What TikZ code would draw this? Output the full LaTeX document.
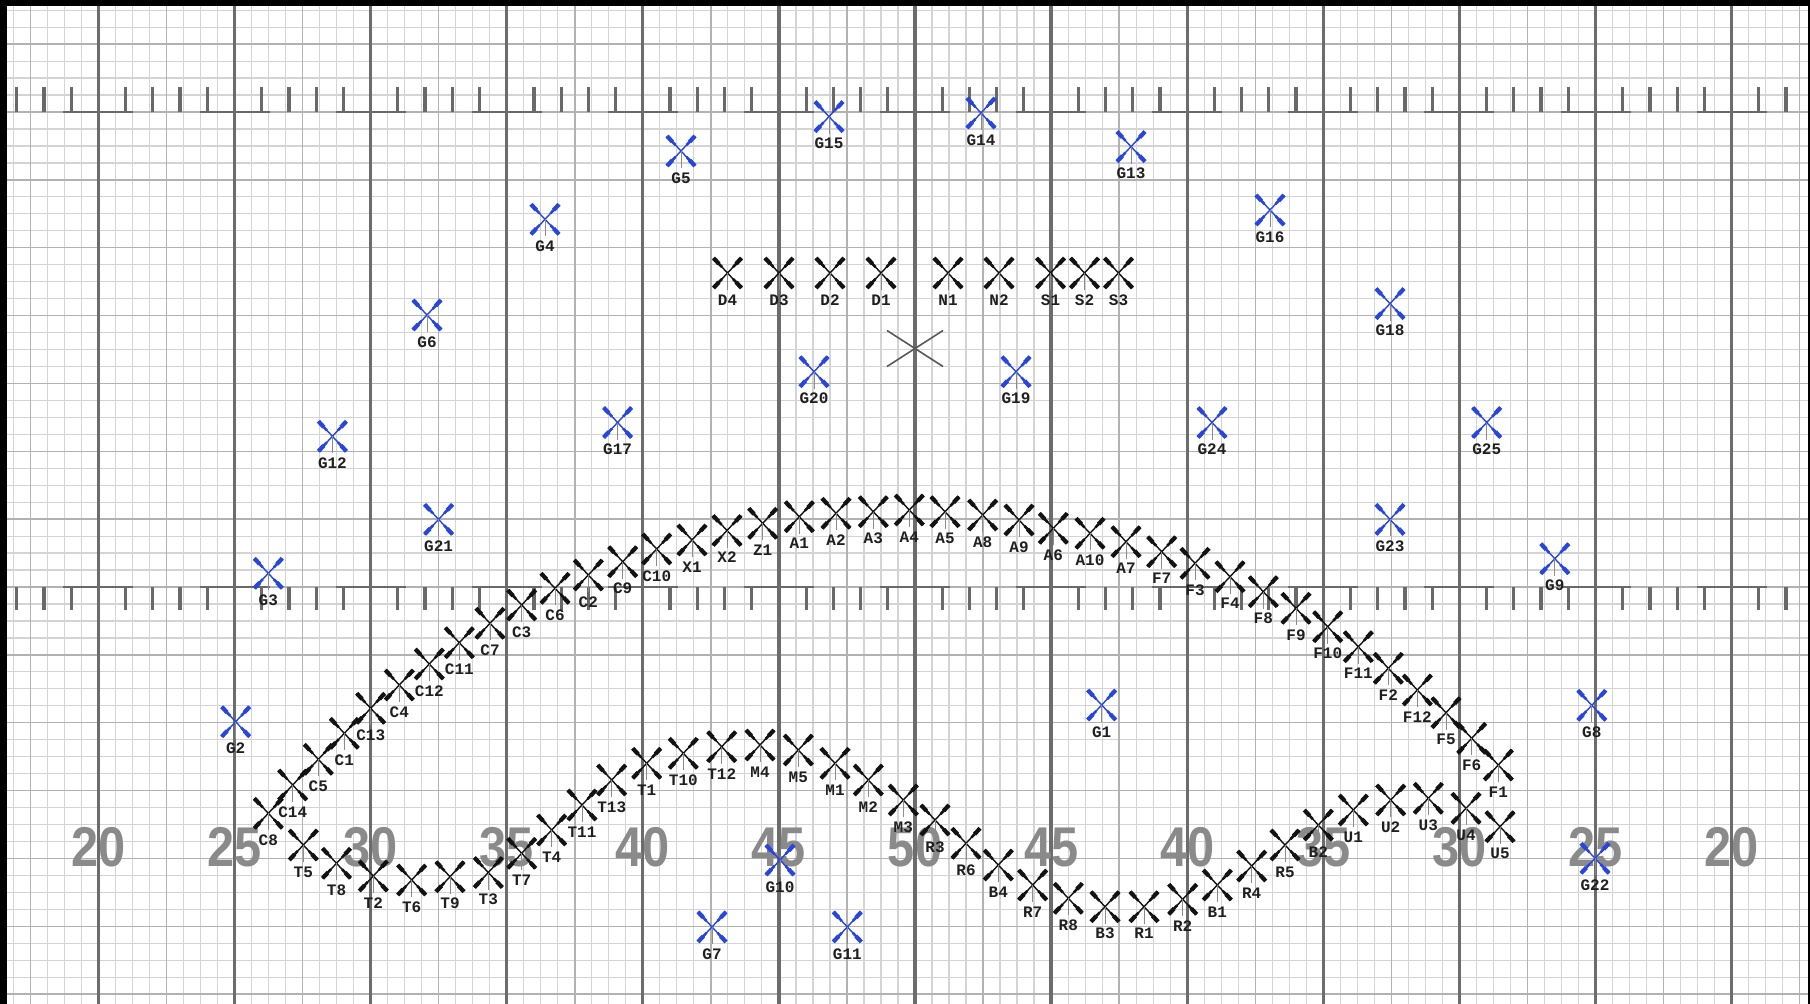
\documentclass[tikz,border=0pt]{standalone}
\usepackage{fontspec}
\newfontfamily\labfont{Liberation Mono}
\newfontfamily\numfont{Liberation Sans}[FakeStretch=0.87]
\definecolor{minorc}{RGB}{212,212,212}
\definecolor{medc}{RGB}{178,178,178}
\definecolor{majc}{RGB}{108,108,108}
\definecolor{hashc}{RGB}{105,105,105}
\definecolor{numc}{RGB}{138,138,138}
\definecolor{gblue}{RGB}{40,70,220}
\definecolor{mkc}{RGB}{18,18,18}
\tikzset{
  xm/.pic={
    \draw[line width=1.4pt] (-14,-15) -- (14,15) (-14,15) -- (14,-15);
    \draw[line width=2.6pt] (-9,-9.6) -- (-5.5,-5.9) (9,9.6) -- (5.5,5.9) (-9,9.6) -- (-5.5,5.9) (9,-9.6) -- (5.5,-5.9);
    \draw[line width=4.2pt] (-14,-15) -- (-8.6,-9.2) (14,15) -- (8.6,9.2) (-14,15) -- (-8.6,9.2) (14,-15) -- (8.6,-9.2);
    \draw[black!45, line width=0.8pt] (0,0) -- (0,17);
  },
  lab/.style={font={\labfont\bfseries\fontsize{16}{16}\selectfont}, text=black!88, inner sep=0pt},
  num/.style={font={\numfont\bfseries\fontsize{56}{56}\selectfont}, text=numc, inner sep=0pt},
  minorl/.style={draw=minorc, line width=1.2pt},
  medl/.style={draw=medc, line width=1.5pt},
  majl/.style={draw=majc, line width=3.3pt},
  hashl/.style={draw=hashc, line width=3.2pt},
}
\newcommand\mk[4][mkc]{%
  \coordinate (#2) at (#3,#4);
  \pic[color=#1] at (#2) {xm};
  \node[lab] (l#2) at ([yshift=-27pt]#2) {#2};
}
\begin{document}
\begin{tikzpicture}[x=1pt,y=-1pt]
\useasboundingbox (0,0) rectangle (1810,1004);
\clip (0,0) rectangle (1810,1004);
\fill[white] (0,0) rectangle (1810,1004);
% minor grid
\foreach \i in {-5,...,100} \draw[minorl] ({98.4+17.0125*\i},0) -- ({98.4+17.0125*\i},1004);
\foreach \k in {-34,...,24} \draw[minorl] (0,{587+16.964*\k}) -- (1810,{587+16.964*\k});
% medium grid
\foreach \i in {-4,4,...,100} \draw[medl] ({98.4+17.0125*\i},0) -- ({98.4+17.0125*\i},1004);
\foreach \k in {-32,-28,...,24} \draw[medl] (0,{587+16.964*\k}) -- (1810,{587+16.964*\k});
% hash marks
\foreach \b in {-1,...,12} {
  \foreach \o in {1,2,3,4} {
    \draw[hashl] ({98.4+136.1*\b+27.22*\o},87) -- ({98.4+136.1*\b+27.22*\o},112);
    \draw[hashl] ({98.4+136.1*\b+27.22*\o},587) -- ({98.4+136.1*\b+27.22*\o},610);
  }
}
\foreach \b in {0,...,12} {
  \draw[hashl, line width=2.6pt] ({98.4+136.1*\b-35},112) -- ({98.4+136.1*\b+35},112);
  \draw[hashl, line width=2.6pt] ({98.4+136.1*\b-35},587) -- ({98.4+136.1*\b+35},587);
}
% yard lines
\foreach \b in {0,...,12} \draw[majl] ({98.4+136.1*\b},0) -- ({98.4+136.1*\b},1004);
% yard numbers
\foreach \n [count=\c from 0] in {20,25,30,35,40,45,50,45,40,35,30,25,20}
  \node[num] (n\c) at ({98.4+136.1*\c},847) {\n};
% center mark
\coordinate (ctr) at (915,348.5);
\draw[black!65, line width=1.6pt] (ctr) ++(-28,-18) -- ++(56,36) (ctr) ++(-28,18) -- ++(56,-36);
% top block
\mk{D4}{727.5}{273}
\mk{D3}{779}{273}
\mk{D2}{830}{273}
\mk{D1}{881}{273}
\mk{N1}{948}{273}
\mk{N2}{999}{273}
\mk{S1}{1050.5}{273}
\mk{S2}{1084.5}{273}
\mk{S3}{1118.5}{273}
% upper arc
\mk{C8}{268.3}{813.3}
\mk{C14}{292.7}{785}
\mk{C5}{318.3}{759.3}
\mk{C1}{344.3}{733.3}
\mk{C13}{370.7}{708.3}
\mk{C4}{399.3}{685}
\mk{C12}{429.3}{664}
\mk{C11}{459.3}{642.7}
\mk{C7}{490}{623.3}
\mk{C3}{521.7}{605}
\mk{C6}{555}{588.3}
\mk{C2}{588.3}{575}
\mk{C9}{622.7}{561.7}
\mk{C10}{656.7}{549}
\mk{X1}{692}{540}
\mk{X2}{727}{530.5}
\mk{Z1}{762.7}{523.3}
\mk{A1}{799.3}{516.7}
\mk{A2}{836}{513.3}
\mk{A3}{873.3}{511.7}
\mk{A4}{909.3}{510}
\mk{A5}{945}{511.7}
\mk{A8}{982.7}{515}
\mk{A9}{1019}{520}
\mk{A6}{1053.3}{528.3}
\mk{A10}{1090}{533.3}
\mk{A7}{1126}{541.7}
\mk{F7}{1161.7}{551.7}
\mk{F3}{1195}{563.3}
\mk{F4}{1230}{576.7}
\mk{F8}{1263.3}{591.7}
\mk{F9}{1296}{608.3}
\mk{F10}{1327.7}{626.7}
\mk{F11}{1358.3}{646.7}
\mk{F2}{1388.3}{668.3}
\mk{F12}{1417.3}{690}
\mk{F5}{1446}{712.7}
\mk{F6}{1471.7}{738.3}
\mk{F1}{1498.3}{765}
% lower loop
\mk{T5}{303.3}{845}
\mk{T8}{336.5}{863.3}
\mk{T2}{373.3}{876}
\mk{T6}{411.7}{880}
\mk{T9}{450}{876.7}
\mk{T3}{488.3}{872.5}
\mk{T7}{521.7}{853.3}
\mk{T4}{551.7}{830}
\mk{T11}{582}{805}
\mk{T13}{611.7}{780}
\mk{T1}{646.7}{763.3}
\mk{T10}{683.3}{753.3}
\mk{T12}{721.7}{746.7}
\mk{M4}{760}{745}
\mk{M5}{798.3}{750}
\mk{M1}{835}{763.3}
\mk{M2}{868.3}{780}
\mk{M3}{903.3}{800}
\mk{R3}{935}{820}
\mk{R6}{966}{843.3}
\mk{B4}{998.3}{865}
\mk{R7}{1032.7}{885}
\mk{R8}{1068.3}{898.3}
\mk{B3}{1105}{906.7}
\mk{R1}{1144}{906.7}
\mk{R2}{1182.7}{899.3}
\mk{B1}{1217.3}{885}
\mk{R4}{1251.7}{866}
\mk{R5}{1285}{845}
\mk{B2}{1318.3}{825}
\mk{U1}{1353.3}{810}
\mk{U2}{1390.7}{800}
\mk{U3}{1428.3}{798.3}
\mk{U4}{1466}{808.3}
\mk{U5}{1500}{826.7}
% guard
\mk[gblue]{G15}{829}{116.6}
\mk[gblue]{G14}{981}{113}
\mk[gblue]{G5}{681}{151}
\mk[gblue]{G13}{1131}{146.6}
\mk[gblue]{G4}{545}{219.3}
\mk[gblue]{G16}{1270}{210}
\mk[gblue]{G6}{427}{315}
\mk[gblue]{G18}{1390}{303.6}
\mk[gblue]{G20}{814}{371.7}
\mk[gblue]{G19}{1016}{371.7}
\mk[gblue]{G17}{617.6}{422.5}
\mk[gblue]{G24}{1212}{422.5}
\mk[gblue]{G25}{1486.7}{422.5}
\mk[gblue]{G12}{332.4}{436.3}
\mk[gblue]{G21}{438.6}{519.4}
\mk[gblue]{G23}{1390}{519.4}
\mk[gblue]{G9}{1554.8}{558.7}
\mk[gblue]{G3}{268.3}{573.3}
\mk[gblue]{G1}{1101.7}{705}
\mk[gblue]{G8}{1591.8}{705.3}
\mk[gblue]{G2}{235.7}{721.7}
\mk[gblue]{G10}{780}{860}
\mk[gblue]{G22}{1595}{858.3}
\mk[gblue]{G7}{712}{926.9}
\mk[gblue]{G11}{847.3}{926.9}
% frame
\fill[black] (0,0) rectangle (7,1004);
\fill[black] (0,0) rectangle (1810,6);
\fill[black] (1808,0) rectangle (1810,1004);
\end{tikzpicture}
\end{document}
